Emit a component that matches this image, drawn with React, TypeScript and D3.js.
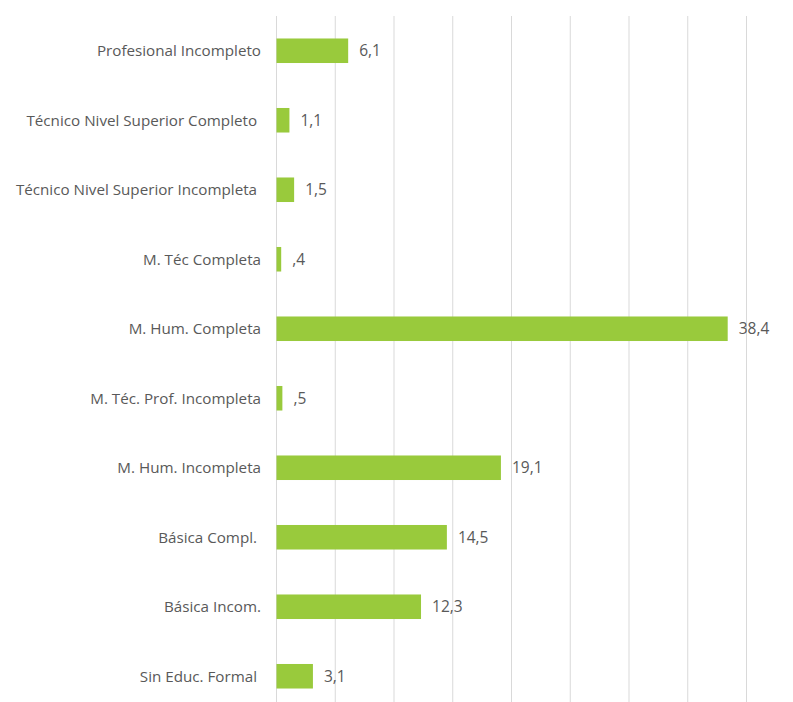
import React from "react";
import * as d3 from "d3";

const categories = [
  "Profesional Incompleto",
  "Técnico Nivel Superior Completo ",
  "Técnico Nivel Superior Incompleta ",
  "M. Téc Completa",
  "M. Hum. Completa",
  "M. Téc. Prof. Incompleta",
  "M. Hum. Incompleta",
  "Básica Compl. ",
  "Básica Incom.",
  "Sin Educ. Formal ",
];
const values = [6.1, 1.1, 1.5, 0.4, 38.4, 0.5, 19.1, 14.5, 12.3, 3.1];
const gridTicks = [0, 5, 10, 15, 20, 25, 30, 35, 40];

const fmt = (v: number) => {
  const s = v.toFixed(1).replace(".", ",");
  return s.startsWith("0") ? s.slice(1) : s;
};

export default function App() {
  const W = 793, H = 702;
  const x = d3.scaleLinear().domain([0, 40]).range([276.5, 746.5]);
  const y = d3.scaleBand<string>().domain(categories).range([16, 711]).paddingInner(0.647).paddingOuter(0.3235);
  const font = "'Open Sans', sans-serif";
  return (
    <svg width={W} height={H} style={{ position: "absolute", left: 0, top: 0, background: "#fff" }}>
      {gridTicks.map((t) => (
        <line key={t} x1={x(t)} x2={x(t)} y1={16} y2={H} stroke="#d9d9d9" strokeWidth={1} />
      ))}
      {categories.map((c, i) => (
        <g key={c}>
          <rect x={x(0)} y={y(c)!} width={x(values[i]) - x(0)} height={y.bandwidth()} fill="#99ca3c" />
          <text x={261} y={y(c)! + y.bandwidth() / 2} dy="0.35em" textAnchor="end" fontFamily={font} fontSize={15.2} fill="#595959" style={{ whiteSpace: "pre" }}>{c}</text>
          <text x={x(values[i]) + 11} y={y(c)! + y.bandwidth() / 2} dy="0.35em" fontFamily={font} fontSize={15.5} fill="#595959">{fmt(values[i])}</text>
        </g>
      ))}
    </svg>
  );
}
